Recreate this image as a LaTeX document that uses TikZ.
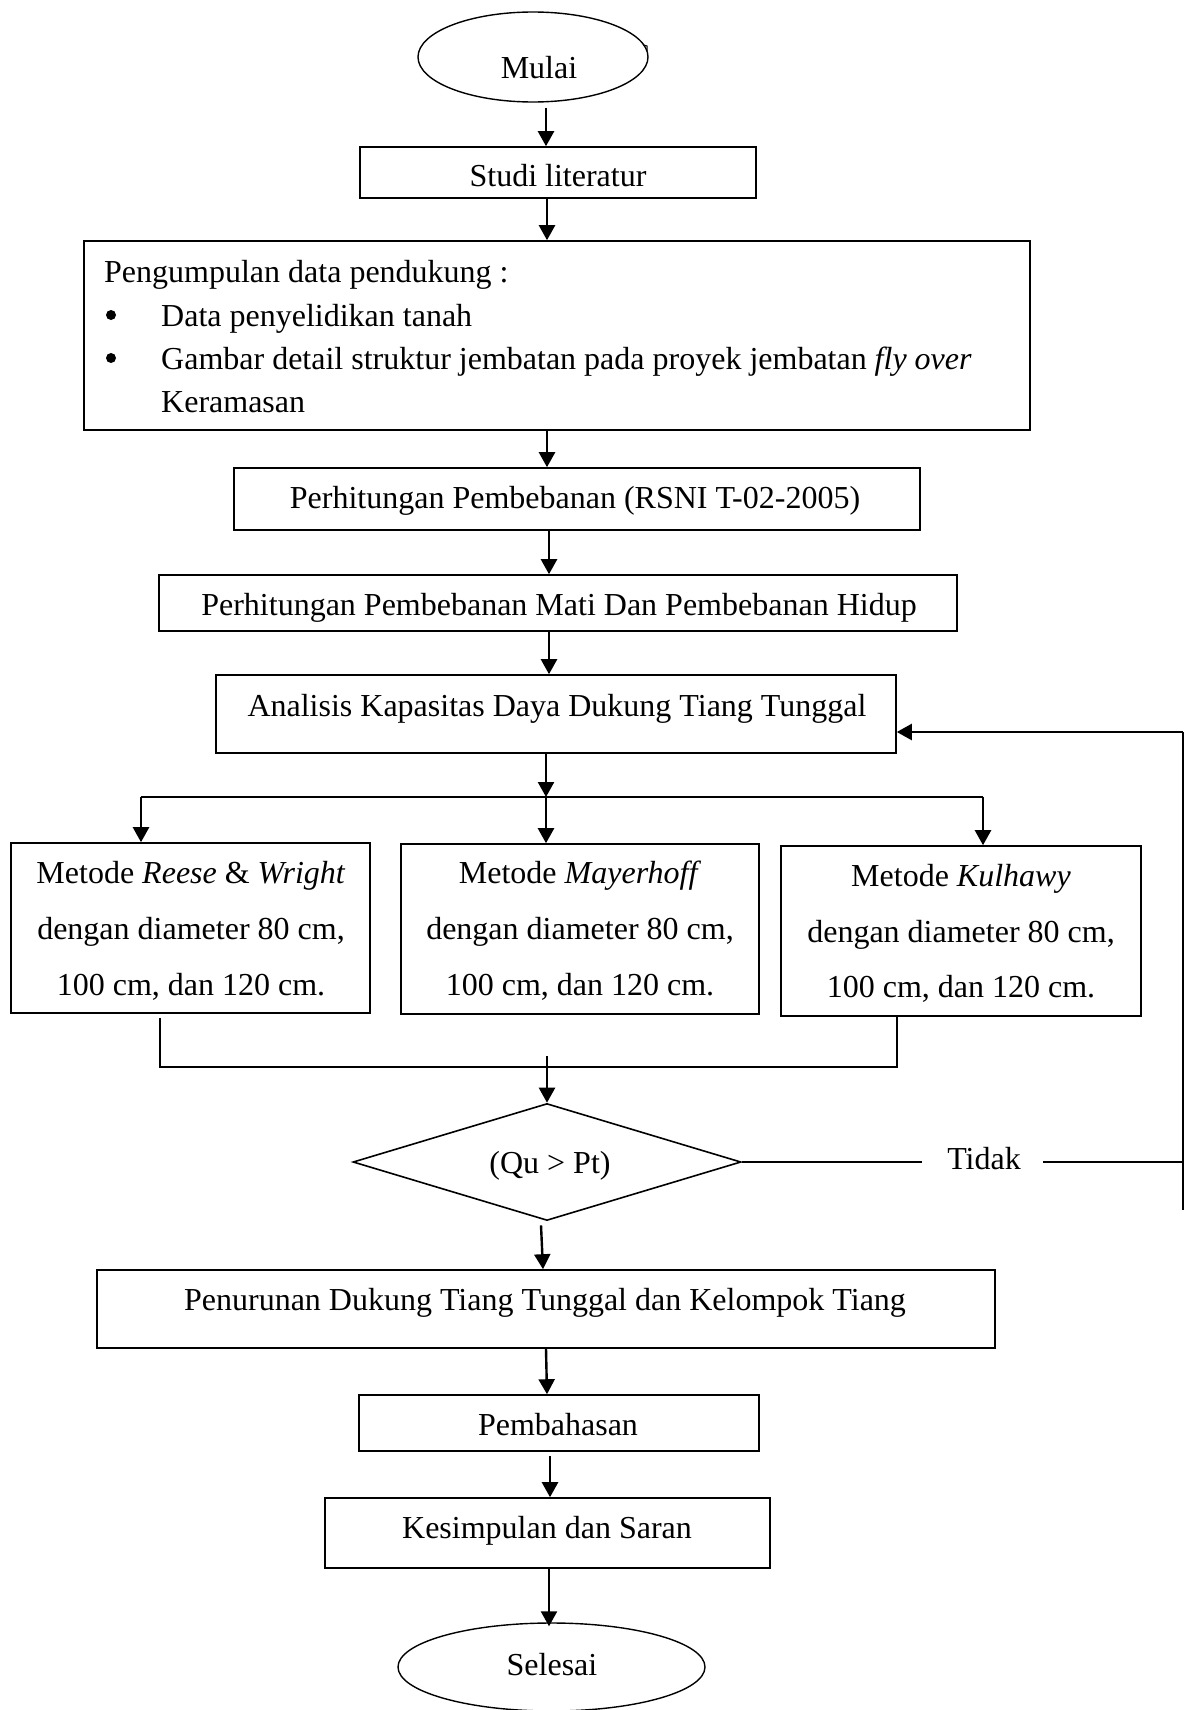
\documentclass[tikz,border=0pt]{standalone}
\usepackage{fontspec}
\setmainfont{Liberation Serif}
\usetikzlibrary{shapes.geometric,arrows.meta}
\begin{document}
\begin{tikzpicture}[x=1pt,y=-1pt,font=\fontsize{32}{38}\selectfont,
  box/.style={draw,line width=1.6pt,rectangle,inner sep=0pt},
  oval/.style={draw,line width=1.4pt,ellipse,inner sep=0pt},
  txt/.style={anchor=base,inner sep=0pt},
  dot/.style={circle,fill,inner sep=0pt,minimum size=10pt},
  ln/.style={line width=1.6pt},
  arr/.style={line width=2.4pt,-{Triangle[length=15pt,width=16pt]}}]
\useasboundingbox (0,0) rectangle (1192,1710);
% shapes
\node[oval,minimum width=230pt,minimum height=90pt] (mulai) at (533,57) {};
\node[box,minimum width=396pt,minimum height=51pt] (studi) at (558,172.5) {};
\node[box,minimum width=946pt,minimum height=189pt] (kumpul) at (557,335.5) {};
\node[box,minimum width=686pt,minimum height=62pt] (rsni) at (577,499) {};
\node[box,minimum width=798pt,minimum height=56pt] (mati) at (558,603) {};
\node[box,minimum width=680pt,minimum height=78pt] (anal) at (556,714) {};
\node[box,minimum width=359pt,minimum height=170pt] (m1) at (190.5,928) {};
\node[box,minimum width=358pt,minimum height=170pt] (m2) at (580,929) {};
\node[box,minimum width=360pt,minimum height=170pt] (m3) at (961,931) {};
\node[draw,diamond,line width=1.6pt,inner sep=0pt,minimum width=388pt,minimum height=117pt] (dec) at (547,1162) {};
\node[box,minimum width=898pt,minimum height=78pt] (turun) at (546,1309) {};
\node[box,minimum width=400pt,minimum height=56pt] (bahas) at (559,1423) {};
\node[box,minimum width=445pt,minimum height=70pt] (simpul) at (547.5,1533) {};
\node[oval,minimum width=307pt,minimum height=88pt] (selesai) at (551.5,1667) {};
% texts
\node[txt] (tmulai) at (539,78) {Mulai};
\draw[line width=1pt] (644,45) -- (647,46) -- (647,51);
\node[txt] (tstudi) at (558,186) {Studi literatur};
\node[txt,anchor=base west] (tk1) at (104,282) {Pengumpulan data pendukung :};
\node[dot] (bul1) at (111,315) {};
\node[txt,anchor=base west] (tk2) at (161,326) {Data penyelidikan tanah};
\node[dot] (bul2) at (111,358) {};
\node[txt,anchor=base west] (tk3) at (161,369) {Gambar detail struktur jembatan pada proyek jembatan \textit{fly over}};
\node[txt,anchor=base west] (tk4) at (161,412) {Keramasan};
\node[txt] (trsni) at (575,508) {Perhitungan Pembebanan (RSNI T-02-2005)};
\node[txt] (tmati) at (559,615) {Perhitungan Pembebanan Mati Dan Pembebanan Hidup};
\node[txt] (tanal) at (557,716) {Analisis Kapasitas Daya Dukung Tiang Tunggal};
\node[txt] (ta1) at (191,883) {Metode \textit{Reese} \& \textit{Wright}};
\node[txt] (ta2) at (191,939) {dengan diameter 80 cm,};
\node[txt] (ta3) at (191,995) {100 cm, dan 120 cm.};
\node[txt] (tb1) at (580,883) {Metode \textit{Mayerhoff}};
\node[txt] (tb2) at (580,939) {dengan diameter 80 cm,};
\node[txt] (tb3) at (580,995) {100 cm, dan 120 cm.};
\node[txt] (tc1) at (961,886) {Metode \textit{Kulhawy}};
\node[txt] (tc2) at (961,942) {dengan diameter 80 cm,};
\node[txt] (tc3) at (961,997) {100 cm, dan 120 cm.};
\node[txt] (tdec) at (550,1173) {(Qu > Pt)};
\node[txt] (tidak) at (984,1169) {Tidak};
\node[txt] (tturun) at (545,1310) {Penurunan Dukung Tiang Tunggal dan Kelompok Tiang};
\node[txt] (tbahas) at (558,1435) {Pembahasan};
\node[txt] (tsimpul) at (547,1538) {Kesimpulan dan Saran};
\node[txt] (tselesai) at (552,1675) {Selesai};
% coordinates
\coordinate (br) at (546,797);
\coordinate (brL) at (141,797);
\coordinate (brR) at (983,797);
\coordinate (mgL) at (160,1067);
\coordinate (mgR) at (897,1067);
\coordinate (mgS) at (547,1056);
\coordinate (tL) at (922,1162);
\coordinate (tR) at (1043,1162);
\coordinate (fbB) at (1183,1210);
\coordinate (fbT) at (1183,732);
% connectors
\draw[arr] ([yshift=-5pt]mulai.south -| 546,0) -- (studi.north -| 546,0);
\draw[arr] (studi.south -| 547,0) -- (kumpul.north -| 547,0);
\draw[arr] (kumpul.south -| 547,0) -- (rsni.north -| 547,0);
\draw[arr] (rsni.south -| 549,0) -- (mati.north -| 549,0);
\draw[arr] (mati.south -| 549,0) -- (anal.north -| 549,0);
\draw[arr] (anal.south -| br) -- (br);
\draw[ln] (brL) -- (brR);
\draw[arr] (brL) -- (m1.north -| brL);
\draw[arr] (br) -- (m2.north -| br);
\draw[arr] (brR) -- (m3.north -| brR);
\draw[ln] ([yshift=-4pt]m1.south -| mgL) -- (mgL) -- (mgR) -- (m3.south -| mgR);
\draw[arr] (mgS) -- (dec.north);
\draw[ln] (dec.east) -- (tL);
\draw[ln] (tR) -- (fbB |- tR);
\draw[ln] (fbB) -- (fbT);
\draw[arr] (fbT) -- (anal.east |- fbT);
\draw[arr] ([yshift=-4pt]dec.south -| 541,0) -- (turun.north -| 543,0);
\draw[arr] (turun.south -| 546,0) -- (bahas.north -| 547,0);
\draw[arr] ([yshift=-4pt]bahas.south -| 550,0) -- (simpul.north -| 550,0);
\draw[arr] (simpul.south -| 549,0) -- ([yshift=-4pt]selesai.north -| 549,0);
\end{tikzpicture}
\end{document}
